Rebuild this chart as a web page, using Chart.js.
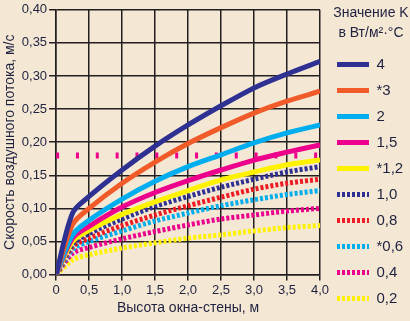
<!DOCTYPE html>
<html>
<head>
<meta charset="utf-8">
<script src="https://cdn.jsdelivr.net/npm/chart.js@4/dist/chart.umd.min.js"></script>
<style>
  html, body { margin: 0; padding: 0; background: #f4e8d4; }
  #wrap { width: 410px; height: 321px; }
</style>
</head>
<body>
<div id="wrap"><canvas id="chart" width="410" height="321"></canvas></div>
<script>
// wall/window height, m
let heights = [0, 0.25, 0.5, 1.0, 1.5, 2.0, 2.5, 3.0, 3.5, 4.0];

// air flow speed, m/s, one list per K value
let k4   = [0, 0.093, 0.118, 0.158, 0.194, 0.226, 0.255, 0.282, 0.303, 0.322];
let k3   = [0, 0.076, 0.100, 0.138, 0.170, 0.198, 0.222, 0.244, 0.262, 0.277];
let k2   = [0, 0.060, 0.082, 0.114, 0.141, 0.163, 0.181, 0.199, 0.214, 0.226];
let k15  = [0, 0.055, 0.073, 0.102, 0.124, 0.142, 0.158, 0.173, 0.185, 0.196];
let k12  = [0, 0.050, 0.067, 0.091, 0.110, 0.127, 0.143, 0.155, 0.166, 0.173];
let k10  = [0, 0.046, 0.062, 0.084, 0.103, 0.118, 0.132, 0.144, 0.155, 0.163];
let k08  = [0, 0.042, 0.055, 0.074, 0.090, 0.104, 0.117, 0.129, 0.138, 0.144];
let k06  = [0, 0.038, 0.050, 0.066, 0.081, 0.093, 0.104, 0.113, 0.121, 0.127];
let k04  = [0, 0.032, 0.041, 0.054, 0.065, 0.075, 0.084, 0.090, 0.096, 0.100];
let k02  = [0, 0.022, 0.030, 0.040, 0.048, 0.055, 0.060, 0.066, 0.071, 0.074];

let kLabels = ["4", "*3", "2", "1,5", "*1,2", "1,0", "0,8", "*0,6", "0,4", "0,2"];
let kSeries = [k4, k3, k2, k15, k12, k10, k08, k06, k04, k02];
let kColors = ["#2e3192", "#f15a29", "#00aeef", "#ec008c", "#fff200",
               "#2e3192", "#ed1c24", "#00aeef", "#ec008c", "#fff200"];
let kDotted = [false, false, false, false, false, true, true, true, true, true];

// horizontal reference level
let refLine = [0.18, 0.18];
let refX = [0, 4.0];

let textColor = "#1e2140";
let gridColor = "#231f20";
let fontName = "'Liberation Sans', sans-serif";

let datasets = kSeries.map(function (vals, i) {
  return {
    label: kLabels[i],
    data: heights.map(function (h, j) { return { x: h, y: vals[j] }; }),
    borderColor: kColors[i],
    backgroundColor: kColors[i],
    borderWidth: 5,
    borderDash: kDotted[i] ? [3, 2] : [],
    pointRadius: 0,
    tension: 0.3,
    fill: false,
    order: i
  };
});

datasets.push({
  label: "ref",
  data: refX.map(function (x, j) { return { x: x, y: refLine[j] }; }),
  borderColor: "#ec008c",
  borderWidth: 6,
  borderDash: [3, 16.85],
  pointRadius: 0,
  fill: false,
  order: 20
});

// legend: keep all items in one column, fixed width, nudged right
let legendFix = {
  id: "legendFix",
  beforeInit: function (chart) {
    let fit = chart.legend.fit;
    chart.legend.fit = function () {
      let mh = this.maxHeight;
      this.maxHeight = 1000;
      fit.bind(this)();
      this.maxHeight = mh;
      this.height = mh;
      this.width = 90;
    };
  },
  afterLayout: function (chart) {
    let lg = chart.legend;
    lg.left += 6;
    lg.right += 6;
    lg.bottom = chart.height + 40;
    lg.height = lg.bottom - lg.top;
  }
};

let ctx = document.getElementById("chart").getContext("2d");
let chart = new Chart(ctx, {
  type: "line",
  data: { datasets: datasets },
  plugins: [legendFix],
  options: {
    responsive: false,
    animation: false,
    layout: { padding: { top: 3, left: 2, right: 0, bottom: 4 } },
    scales: {
      x: {
        type: "linear",
        min: 0,
        max: 4,
        ticks: {
          stepSize: 0.5,
          color: textColor,
          font: { family: fontName, size: 13 },
          padding: 2,
          maxRotation: 0,
          callback: function (v) { return v === 0 ? "0" : v.toFixed(1).replace(".", ","); }
        },
        grid: { color: gridColor, lineWidth: 1.5, tickLength: 6 },
        border: { color: gridColor, width: 1.5 },
        title: {
          display: true,
          text: "Высота окна-стены, м",
          color: textColor,
          font: { family: fontName, size: 14 },
          padding: { top: 0, bottom: 0 }
        }
      },
      y: {
        min: 0,
        max: 0.4,
        ticks: {
          stepSize: 0.05,
          color: textColor,
          font: { family: fontName, size: 13 },
          padding: 2,
          callback: function (v) { return v.toFixed(2).replace(".", ","); }
        },
        grid: { color: gridColor, lineWidth: 1.5, tickLength: 7 },
        border: { color: gridColor, width: 1.5 },
        title: {
          display: true,
          text: "Скорость воздушного потока, м/с",
          color: textColor,
          font: { family: fontName, size: 14 },
          padding: { top: 0, bottom: 1 }
        }
      }
    },
    plugins: {
      tooltip: { enabled: false },
      legend: {
        display: true,
        position: "right",
        align: "start",
        title: {
          display: true,
          text: ["Значение K", "в Вт/м²·°C"],
          color: textColor,
          position: "center",
          font: { family: fontName, size: 14, lineHeight: 1.43 },
          padding: { top: 3, bottom: 20 }
        },
        labels: {
          color: textColor,
          font: { family: fontName, size: 15 },
          usePointStyle: true,
          pointStyle: "line",
          pointStyleWidth: 32,
          padding: 11,
          filter: function (item) { return item.text !== "ref"; },
          generateLabels: function (chart) {
            let items = Chart.defaults.plugins.legend.labels.generateLabels(chart);
            return items.map(function (item) {
              let ds = chart.data.datasets[item.datasetIndex];
              item.lineDash = ds.borderDash;
              item.lineWidth = 5;
              item.strokeStyle = ds.borderColor;
              item.pointStyle = "line";
              item.lineCap = "butt";
              return item;
            });
          }
        }
      }
    }
  }
});
</script>
</body>
</html>
